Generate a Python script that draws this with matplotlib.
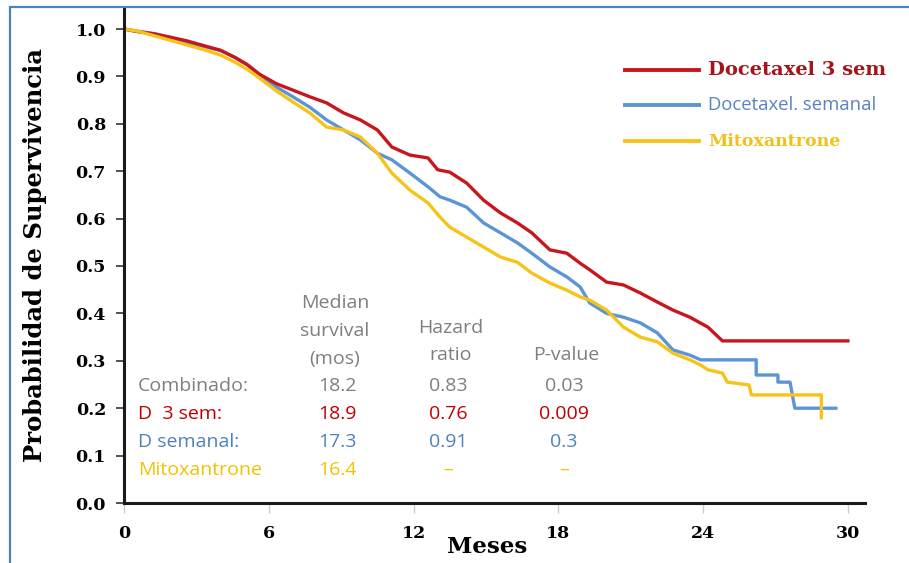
import matplotlib.pyplot as plt
from matplotlib.patches import Rectangle

# Curvas de Kaplan-Meier (meses, probabilidad)
d3_t = [0, 0.5, 1.2, 1.9, 2.6, 3.3, 4.0, 4.6, 5.1, 5.6, 6.3, 7.0, 7.7, 8.4, 9.1, 9.8,
        10.5, 11.1, 11.85, 12.6, 13.0, 13.5, 14.2, 14.9, 15.6, 16.3, 16.9, 17.65,
        18.35, 18.9, 19.3, 20.0, 20.7, 21.4, 22.1, 22.75, 23.45, 24.2, 24.8, 30.0]
d3_s = [1.0, 0.995, 0.99, 0.983, 0.975, 0.965, 0.955, 0.94, 0.925, 0.905, 0.885, 0.871,
        0.857, 0.844, 0.823, 0.808, 0.787, 0.751, 0.734, 0.728, 0.703, 0.698, 0.675,
        0.639, 0.612, 0.591, 0.57, 0.534, 0.527, 0.506, 0.492, 0.466, 0.46, 0.443,
        0.424, 0.407, 0.392, 0.371, 0.342, 0.342]

dsem_t = [0, 0.6, 1.3, 2.0, 2.7, 3.4, 4.0, 4.6, 5.1, 5.6, 6.3, 7.0, 7.7, 8.4, 9.1, 9.8,
          10.5, 11.1, 11.85, 12.6, 13.1, 13.5, 14.2, 14.9, 15.6, 16.3, 16.9, 17.65,
          18.35, 18.9, 19.3, 20.0, 20.7, 21.4, 22.1, 22.75, 23.45, 23.9, 26.2, 26.2,
          27.1, 27.1, 27.6, 27.8, 29.5]
dsem_s = [1.0, 0.995, 0.99, 0.98, 0.97, 0.962, 0.955, 0.94, 0.925, 0.905, 0.878, 0.857,
          0.835, 0.808, 0.787, 0.766, 0.738, 0.724, 0.696, 0.667, 0.646, 0.639, 0.624,
          0.591, 0.57, 0.549, 0.527, 0.498, 0.477, 0.456, 0.422, 0.40, 0.392, 0.38,
          0.359, 0.323, 0.312, 0.302, 0.302, 0.27, 0.27, 0.255, 0.255, 0.20, 0.20]

mito_t = [0, 0.6, 1.3, 2.0, 2.7, 3.4, 4.0, 4.6, 5.1, 5.6, 6.3, 7.0, 7.7, 8.4, 9.1, 9.8,
          10.5, 11.1, 11.85, 12.6, 13.1, 13.5, 14.2, 14.9, 15.6, 16.3, 16.9, 17.65,
          18.35, 18.9, 19.3, 20.0, 20.7, 21.4, 22.1, 22.75, 23.45, 23.9, 24.2, 24.8,
          25.0, 25.9, 26.0, 28.9, 28.9]
mito_s = [1.0, 0.995, 0.985, 0.975, 0.965, 0.955, 0.945, 0.93, 0.915, 0.897, 0.87, 0.846,
          0.823, 0.793, 0.787, 0.772, 0.738, 0.696, 0.66, 0.633, 0.603, 0.582, 0.561,
          0.54, 0.519, 0.508, 0.485, 0.464, 0.449, 0.435, 0.428, 0.407, 0.371, 0.35,
          0.34, 0.316, 0.302, 0.291, 0.281, 0.274, 0.255, 0.249, 0.228, 0.228, 0.18]

x_ticks = [0, 6, 12, 18, 24, 30]
y_ticks = [0.0, 0.1, 0.2, 0.3, 0.4, 0.5, 0.6, 0.7, 0.8, 0.9, 1.0]

# Tabla de resultados
table_rows = ['Combinado:', 'D  3 sem:', 'D semanal:', 'Mitoxantrone']
median_vals = ['18.2', '18.9', '17.3', '16.4']
hazard_vals = ['0.83', '0.76', '0.91', '–']
pvalue_vals = ['0.03', '0.009', '0.3', '–']

RED = '#C8161D'
BLUE = '#5B95D5'
YELLOW = '#F5C416'

fig = plt.figure(figsize=(9.09, 5.63), dpi=100)
W, H = 909, 563

# ejes: x=0 en px 124, y=0 en px 503
ax = fig.add_axes([124 / W, (H - 503) / H, (30.7 * 24.13) / W, (1.045 * 474) / H])
ax.set_xlim(0, 30.7)
ax.set_ylim(0, 1.045)

ax.plot(dsem_t, dsem_s, color=BLUE, lw=2.4)
ax.plot(d3_t, d3_s, color=RED, lw=2.4)
ax.plot(mito_t, mito_s, color=YELLOW, lw=2.4)

for s in ['top', 'right']:
    ax.spines[s].set_visible(False)
for s in ['left', 'bottom']:
    ax.spines[s].set_linewidth(2.2)
    ax.spines[s].set_color('#1a1a1a')

serif = 'DejaVu Serif'
ax.set_xticks(x_ticks)
ax.set_xticklabels([str(v) for v in x_ticks], family=serif, weight='bold', fontsize=12.5)
ax.set_yticks(y_ticks)
ax.set_yticklabels(['%.1f' % v for v in y_ticks], family=serif, weight='bold', fontsize=12.5)
ax.tick_params(axis='x', length=7, width=1, color='#cccccc', pad=9)
ax.tick_params(axis='y', length=6, width=1.2, color='#333333', pad=7)

fig.text(35 / W, 1 - 255 / H, 'Probabilidad de Supervivencia', family=serif,
         weight='bold', fontsize=17.5, rotation=90, ha='center', va='center')
fig.text(487 / W, 1 - 547 / H, 'Meses', family=serif, weight='bold', fontsize=16.5,
         ha='center', va='center')

# leyenda dibujada a mano
leg_items = [('Docetaxel 3 sem', RED, 70, serif, 'bold', 14, '#A3141C'),
             ('Docetaxel. semanal', BLUE, 105, 'Open Sans', 'normal', 13.3, '#5A82C2'),
             ('Mitoxantrone', YELLOW, 141, serif, 'bold', 12.5, '#EFC21A')]
for label, col, py, fam, wt, fs, tcol in leg_items:
    fig.add_artist(plt.Line2D([625 / W, 699 / W], [1 - py / H, 1 - py / H], color=col,
                              lw=2.8, transform=fig.transFigure))
    fig.text(708 / W, 1 - py / H, label, family=fam, weight=wt, fontsize=fs, color=tcol,
             ha='left', va='center')

# tabla
grey = '#7f7f7f'
sans = 'Open Sans'
tfs = 14
for txt, py in [('Median', 303), ('survival', 331), ('(mos)', 359)]:
    fig.text(335 / W, 1 - py / H, txt, family=sans, fontsize=tfs, color=grey,
             ha='center', va='center')
for txt, py in [('Hazard', 328), ('ratio', 355)]:
    fig.text(451 / W, 1 - py / H, txt, family=sans, fontsize=tfs, color=grey,
             ha='center', va='center')
fig.text(566 / W, 1 - 355 / H, 'P-value', family=sans, fontsize=tfs, color=grey,
         ha='center', va='center')

row_colors = [grey, '#C00000', '#4F81BD', '#F2C200']
row_y = [386, 414, 442, 470]
for i in range(len(table_rows)):
    py = 1 - row_y[i] / H
    c = row_colors[i]
    fig.text(138 / W, py, table_rows[i], family=sans, fontsize=tfs, color=c,
             ha='left', va='center')
    fig.text(337 / W, py, median_vals[i], family=sans, fontsize=tfs, color=c,
             ha='center', va='center')
    fig.text(448 / W, py, hazard_vals[i], family=sans, fontsize=tfs, color=c,
             ha='center', va='center')
    fig.text(564 / W, py, pvalue_vals[i], family=sans, fontsize=tfs, color=c,
             ha='center', va='center')

# marco azul
fig.add_artist(Rectangle((10 / W, -0.1), 1.2, 1 - 7 / H + 0.1, fill=False,
                         edgecolor='#4F81BD', lw=1.6, transform=fig.transFigure))

fig.savefig('out.png', dpi=100)
